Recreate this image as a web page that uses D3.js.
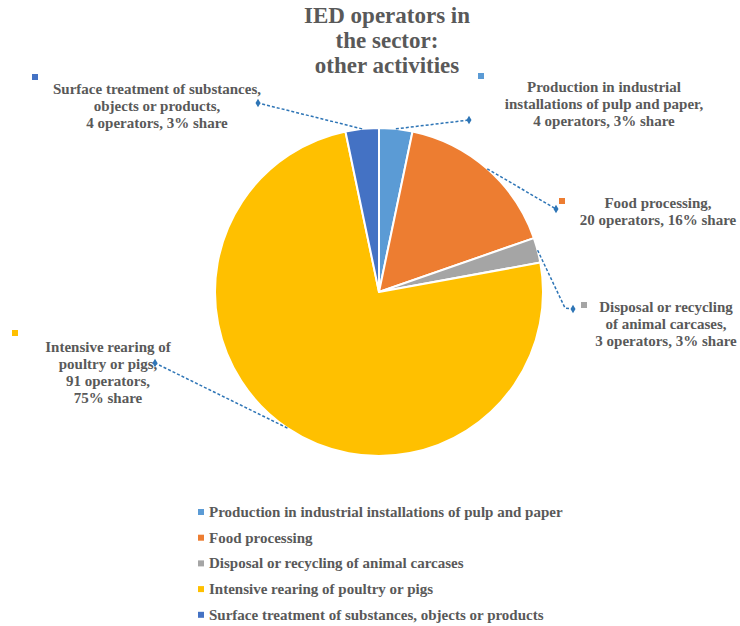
<!DOCTYPE html>
<html>
<head>
<meta charset="utf-8">
<script src="https://cdn.jsdelivr.net/npm/d3@7"></script>
<style>
  html, body { margin: 0; padding: 0; background: #fff; }
  svg { display: block; }
</style>
</head>
<body>
<svg id="chart" width="740" height="626"></svg>
<script>
// Sector breakdown of IED operators (other activities)
const categories = [
  "Production in industrial installations of pulp and paper",
  "Food processing",
  "Disposal or recycling of animal carcases",
  "Intensive rearing of poultry or pigs",
  "Surface treatment of substances, objects or products"
];
const operators = [4, 20, 3, 91, 4];
const shares = [3, 16, 3, 75, 3];
const dataLabels = [
  ["Production in industrial", "installations of pulp and paper,", "4 operators, 3% share"],
  ["Food processing,", "20 operators, 16% share"],
  ["Disposal or recycling", "of animal carcases,", "3 operators, 3% share"],
  ["Intensive rearing of", "poultry or pigs,", "91 operators,", "75% share"],
  ["Surface treatment of substances,", "objects or products,", "4 operators, 3% share"]
];
const titleLines = ["IED operators in", "the sector:", "other activities"];
const colors = ["#5B9BD5", "#ED7D31", "#A5A5A5", "#FFC000", "#4472C4"];

const FONT = "'Liberation Serif', Tinos, 'Times New Roman', 'DejaVu Serif', serif";
const TEXT_COLOR = "#595959";

const svg = d3.select("#chart");
const cx = 379, cy = 292, R = 164;

// Title
svg.append("text")
  .attr("text-anchor", "middle")
  .attr("font-family", FONT)
  .attr("font-weight", "bold")
  .attr("font-size", 23)
  .attr("fill", TEXT_COLOR)
  .selectAll("tspan").data(titleLines).join("tspan")
  .attr("x", 387).attr("y", (d, i) => 23 + i * 25)
  .text(d => d);

// Pie
const pie = d3.pie().sort(null).value(d => d);
const arcs = pie(operators);
const arc = d3.arc().innerRadius(0).outerRadius(R);
const g = svg.append("g").attr("transform", `translate(${cx},${cy})`);
g.selectAll("path").data(arcs).join("path")
  .attr("d", arc)
  .attr("fill", (d, i) => colors[i])
  .attr("stroke", "#fff")
  .attr("stroke-width", 2)
  .attr("stroke-linejoin", "round");

// Label layout: text centre x, first baseline, colour swatch, leader bend points, leader end
const labelLayout = [
  { x: 604, y: 92, sw: [481, 76], bend: [], end: [469, 120] },
  { x: 658, y: 208, sw: [562, 201], bend: [], end: [556, 209] },
  { x: 666, y: 312, sw: [584, 305], bend: [[565, 308]], end: [573, 309] },
  { x: 108, y: 352, sw: [15, 333], bend: [], end: [155, 363] },
  { x: 157, y: 94, sw: [35, 77], bend: [], end: [258, 103] }
];

const leaderColor = "#2E75B6";
arcs.forEach((a, i) => {
  const L = labelLayout[i];
  const mid = (a.startAngle + a.endAngle) / 2;
  const start = [cx + R * Math.sin(mid), cy - R * Math.cos(mid)];
  const pts = [start, ...L.bend, L.end];
  svg.append("path")
    .attr("d", d3.line()(pts))
    .attr("fill", "none")
    .attr("stroke", leaderColor)
    .attr("stroke-width", 1.5)
    .attr("stroke-dasharray", "3,2");
  svg.append("path")
    .attr("d", d3.symbol(d3.symbolDiamond, 22)())
    .attr("transform", `translate(${L.end[0]},${L.end[1]})`)
    .attr("fill", leaderColor);
  svg.append("rect")
    .attr("x", L.sw[0] - 3).attr("y", L.sw[1] - 3)
    .attr("width", 6).attr("height", 6)
    .attr("fill", colors[i]);
  svg.append("text")
    .attr("text-anchor", "middle")
    .attr("font-family", FONT)
    .attr("font-weight", "bold")
    .attr("font-size", 15)
    .attr("fill", TEXT_COLOR)
    .selectAll("tspan").data(dataLabels[i]).join("tspan")
    .attr("x", L.x).attr("y", (d, j) => L.y + j * 17)
    .text(d => d);
});

// Legend
const legend = svg.append("g");
const legendItems = legend.selectAll("g").data(categories).join("g")
  .attr("transform", (d, i) => `translate(201,${517 + i * 25.7})`);
legendItems.append("rect")
  .attr("x", -3).attr("y", -8).attr("width", 6).attr("height", 6)
  .attr("fill", (d, i) => colors[i]);
legendItems.append("text")
  .attr("x", 8).attr("y", 0)
  .attr("font-family", FONT)
  .attr("font-weight", "bold")
  .attr("font-size", 15)
  .attr("fill", TEXT_COLOR)
  .text(d => d);
</script>
</body>
</html>
